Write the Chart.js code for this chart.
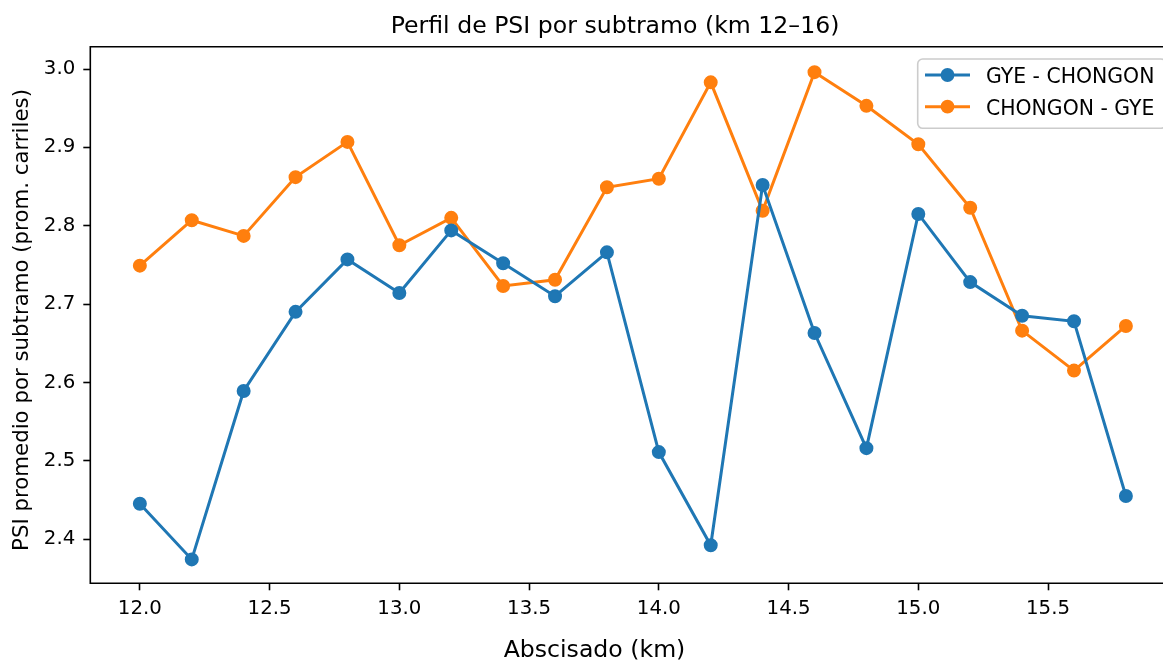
<!DOCTYPE html>
<html>
<head>
<meta charset="utf-8">
<script src="https://cdn.jsdelivr.net/npm/chart.js@4.4.1/dist/chart.umd.min.js"></script>
<style>
  html, body { margin: 0; padding: 0; background: #fff; overflow: hidden; }
  canvas { display: block; }
</style>
</head>
<body>
<canvas id="c" width="1163" height="661"></canvas>
<script>
// ---- Data ----
const km = [12.0, 12.2, 12.4, 12.6, 12.8, 13.0, 13.2, 13.4, 13.6, 13.8,
            14.0, 14.2, 14.4, 14.6, 14.8, 15.0, 15.2, 15.4, 15.6, 15.8];
const gyeChongon = [2.445, 2.374, 2.589, 2.690, 2.757, 2.714, 2.794, 2.752, 2.710, 2.766,
                    2.511, 2.392, 2.852, 2.663, 2.516, 2.815, 2.728, 2.685, 2.678, 2.455];
const chongonGye = [2.749, 2.807, 2.787, 2.862, 2.907, 2.775, 2.810, 2.723, 2.731, 2.849,
                    2.860, 2.983, 2.819, 2.996, 2.953, 2.904, 2.823, 2.666, 2.615, 2.672];
const seriesNames = ['GYE - CHONGON', 'CHONGON - GYE'];
const xTickValues = [12.0, 12.5, 13.0, 13.5, 14.0, 14.5, 15.0, 15.5];
const yTickValues = [2.4, 2.5, 2.6, 2.7, 2.8, 2.9, 3.0];
const titleText = 'Perfil de PSI por subtramo (km 12–16)';
const xLabel = 'Abscisado (km)';
const yLabel = 'PSI promedio por subtramo (prom. carriles)';

const FONT = "'DejaVu Sans', 'Liberation Sans', sans-serif";
const COLORS = ['#1f77b4', '#ff7f0e'];

const toPoints = (ys) => km.map((x, i) => ({ x: x, y: ys[i] }));

const decorPlugin = {
  id: 'decor',
  afterDatasetsDraw(chart) {
    const ctx = chart.ctx;
    const a = chart.chartArea;
    ctx.save();
    // spines (right spine lies outside the visible picture)
    ctx.strokeStyle = '#000';
    ctx.lineWidth = 1.6;
    ctx.beginPath();
    ctx.moveTo(chart.width + 5, a.top);
    ctx.lineTo(a.left, a.top);
    ctx.lineTo(a.left, a.bottom);
    ctx.lineTo(chart.width + 5, a.bottom);
    ctx.stroke();

    // title
    ctx.fillStyle = '#000';
    ctx.font = '23.6px ' + FONT;
    ctx.textAlign = 'center';
    ctx.textBaseline = 'alphabetic';
    ctx.fillText(titleText, 615, 33);

    // x label
    ctx.font = '23.6px ' + FONT;
    ctx.fillText(xLabel, 594.5, 657);

    // y label
    ctx.save();
    ctx.translate(28.3, 320);
    ctx.rotate(-Math.PI / 2);
    ctx.font = '21.3px ' + FONT;
    ctx.textAlign = 'center';
    ctx.fillText(yLabel, 0, 0);
    ctx.restore();

    // legend
    const lx = 917.7, ly = 59, lw = 1166 - 917.7, lh = 128.3 - 59, r = 5;
    ctx.beginPath();
    ctx.moveTo(lx + r, ly);
    ctx.lineTo(lx + lw - r, ly);
    ctx.arcTo(lx + lw, ly, lx + lw, ly + r, r);
    ctx.lineTo(lx + lw, ly + lh - r);
    ctx.arcTo(lx + lw, ly + lh, lx + lw - r, ly + lh, r);
    ctx.lineTo(lx + r, ly + lh);
    ctx.arcTo(lx, ly + lh, lx, ly + lh - r, r);
    ctx.lineTo(lx, ly + r);
    ctx.arcTo(lx, ly, lx + r, ly, r);
    ctx.closePath();
    ctx.fillStyle = 'rgba(255,255,255,0.8)';
    ctx.fill();
    ctx.strokeStyle = '#cccccc';
    ctx.lineWidth = 1.6;
    ctx.stroke();

    const rows = [75, 106.7];
    chart.data.datasets.forEach((ds, i) => {
      const y = rows[i];
      ctx.strokeStyle = ds.borderColor;
      ctx.lineWidth = 3;
      ctx.beginPath();
      ctx.moveTo(925, y);
      ctx.lineTo(970, y);
      ctx.stroke();
      ctx.beginPath();
      ctx.arc(947.5, y, 6.9, 0, Math.PI * 2);
      ctx.fillStyle = ds.borderColor;
      ctx.fill();
      ctx.fillStyle = '#000';
      ctx.font = '20.4px ' + FONT;
      ctx.textAlign = 'left';
      ctx.textBaseline = 'alphabetic';
      ctx.fillText(ds.label, 986, y + 8.3);
    });
    ctx.restore();
  }
};

new Chart(document.getElementById('c'), {
  type: 'line',
  data: {
    datasets: [
      { label: seriesNames[0], data: toPoints(gyeChongon) },
      { label: seriesNames[1], data: toPoints(chongonGye) }
    ].map((d, i) => Object.assign(d, {
      borderColor: COLORS[i],
      backgroundColor: COLORS[i],
      pointBackgroundColor: COLORS[i],
      pointBorderColor: COLORS[i],
      borderWidth: 3,
      pointRadius: 6,
      pointBorderWidth: 2,
      pointHoverRadius: 6,
      tension: 0,
      fill: false
    }))
  },
  options: {
    responsive: false,
    animation: false,
    devicePixelRatio: 1,
    layout: { autoPadding: false, padding: { top: 46.7, left: 0, right: 0, bottom: 0 } },
    plugins: {
      legend: { display: false },
      title: { display: false },
      tooltip: { enabled: false }
    },
    scales: {
      x: {
        type: 'linear',
        min: 11.809,
        max: 15.943,
        offset: false,
        border: { display: false },
        grid: { display: true, drawOnChartArea: false, drawTicks: true, tickLength: 7, tickWidth: 1.6, tickColor: '#000' },
        ticks: {
          color: '#000',
          font: { family: FONT, size: 19.8, lineHeight: 1 },
          padding: 9,
          maxRotation: 0,
          autoSkip: false,
          callback: (v) => Number(v).toFixed(1)
        },
        afterBuildTicks: (s) => { s.ticks = xTickValues.map(v => ({ value: v })); },
        afterFit: (s) => { s.height = 661 - 583.3; }
      },
      y: {
        type: 'linear',
        min: 2.3435,
        max: 3.0285,
        border: { display: false },
        grid: { display: true, drawOnChartArea: false, drawTicks: true, tickLength: 7, tickWidth: 1.6, tickColor: '#000' },
        ticks: {
          color: '#000',
          font: { family: FONT, size: 19.8, lineHeight: 1 },
          padding: 8,
          autoSkip: false,
          callback: (v) => Number(v).toFixed(1)
        },
        afterBuildTicks: (s) => { s.ticks = yTickValues.map(v => ({ value: v })); },
        afterFit: (s) => { s.width = 90.3; }
      }
    }
  },
  plugins: [decorPlugin]
});
</script>
</body>
</html>
